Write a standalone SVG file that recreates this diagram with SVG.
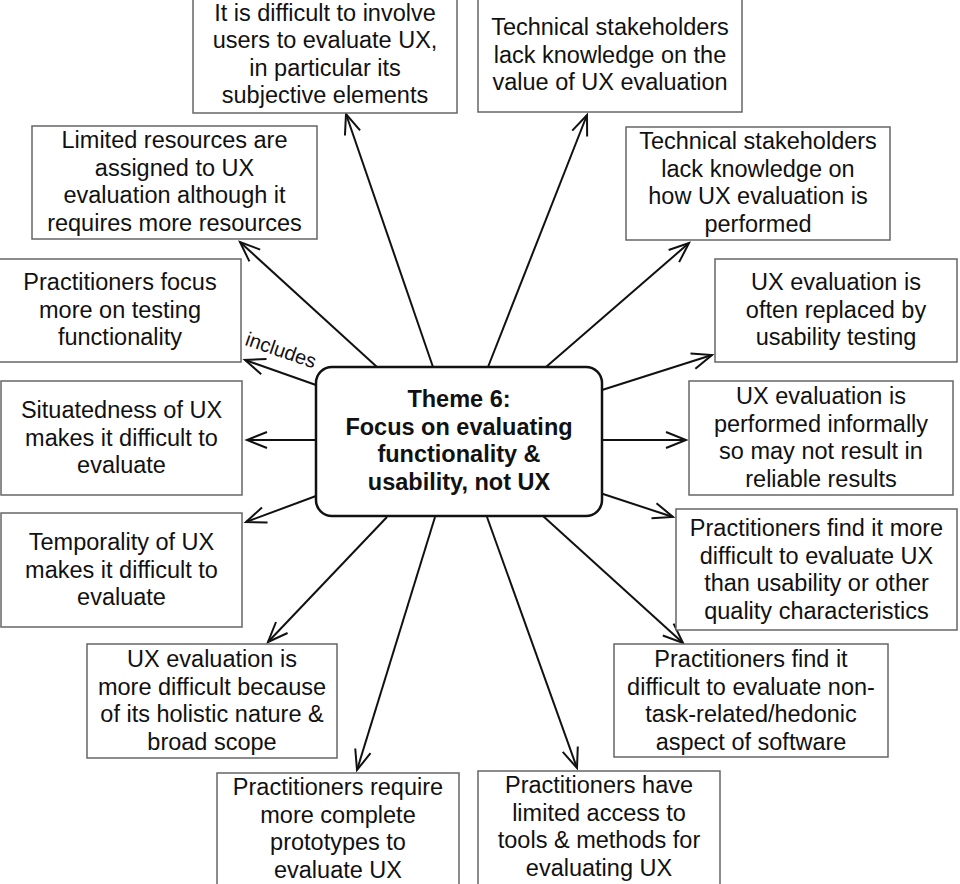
<svg xmlns="http://www.w3.org/2000/svg" width="960" height="884" viewBox="0 0 960 884">
<style>
.box{fill:#fff;stroke:#666;stroke-width:1.5}
.t{font-family:"Liberation Sans",Arial,sans-serif;font-size:23.5px;fill:#111;text-anchor:middle}
.c{font-family:"Liberation Sans",Arial,sans-serif;font-size:23.5px;font-weight:bold;fill:#111;text-anchor:middle}
.e{stroke:#111;stroke-width:2;fill:none;marker-end:url(#arr)}
</style>
<defs>
<marker id="arr" markerUnits="userSpaceOnUse" viewBox="-25 -12 30 24" markerWidth="30" markerHeight="24" refX="0" refY="0" orient="auto">
<path d="M-20,-8 L0,0 L-20,8" fill="none" stroke="#111" stroke-width="2"/>
</marker>
</defs>
<rect width="960" height="884" fill="#fff"/>
<g id="connectors">
<line class="e" x1="433" y1="367" x2="346" y2="114"/>
<line class="e" x1="488" y1="367" x2="587" y2="115"/>
<line class="e" x1="546" y1="367" x2="689" y2="243"/>
<line class="e" x1="602" y1="390" x2="712" y2="355"/>
<line class="e" x1="602" y1="440" x2="686" y2="440"/>
<line class="e" x1="600" y1="493" x2="673" y2="517"/>
<line class="e" x1="543" y1="516" x2="683" y2="643"/>
<line class="e" x1="487" y1="517" x2="577" y2="768"/>
<line class="e" x1="435" y1="517" x2="357" y2="770"/>
<line class="e" x1="387" y1="517" x2="268" y2="642"/>
<line class="e" x1="316" y1="496" x2="246" y2="522"/>
<line class="e" x1="316" y1="440" x2="247" y2="440"/>
<line class="e" x1="316" y1="385" x2="245" y2="360"/>
<line class="e" x1="377" y1="367" x2="240" y2="242"/>
<text font-family="Liberation Sans,Arial,sans-serif" font-size="20" fill="#111" text-anchor="middle" x="281" y="357" transform="rotate(19 281 350)">includes</text>
</g>
<g id="center">
<rect x="316" y="367" width="286" height="149" rx="16" fill="#fff" stroke="#111" stroke-width="2.5"/>
<text class="c" x="459" y="407">Theme 6:<tspan x="459" dy="27.5">Focus on evaluating</tspan><tspan x="459" dy="27.5">functionality &amp;</tspan><tspan x="459" dy="27.5">usability, not UX</tspan></text>
</g>
<g id="n1">
<rect class="box" x="193" y="-3" width="264" height="116"/>
<text class="t" x="325" y="21">It is difficult to involve<tspan x="325" dy="27.3">users to evaluate UX,</tspan><tspan x="325" dy="27.3">in particular its</tspan><tspan x="325" dy="27.3">subjective elements</tspan></text>
</g>
<g id="n2">
<rect class="box" x="478" y="-3" width="264" height="115"/>
<text class="t" x="610" y="35">Technical stakeholders<tspan x="610" dy="27.5">lack knowledge on the</tspan><tspan x="610" dy="27.5">value of UX evaluation</tspan></text>
</g>
<g id="n3">
<rect class="box" x="626" y="127" width="264" height="113"/>
<text class="t" x="758" y="149">Technical stakeholders<tspan x="758" dy="27.5">lack knowledge on</tspan><tspan x="758" dy="27.5">how UX evaluation is</tspan><tspan x="758" dy="27.5">performed</tspan></text>
</g>
<g id="n4">
<rect class="box" x="715" y="259" width="242" height="103"/>
<text class="t" x="836" y="290">UX evaluation is<tspan x="836" dy="27.5">often replaced by</tspan><tspan x="836" dy="27.5">usability testing</tspan></text>
</g>
<g id="n5">
<rect class="box" x="689" y="381" width="264" height="114"/>
<text class="t" x="821" y="404">UX evaluation is<tspan x="821" dy="27.5">performed informally</tspan><tspan x="821" dy="27.5">so may not result in</tspan><tspan x="821" dy="27.5">reliable results</tspan></text>
</g>
<g id="n6">
<rect class="box" x="676" y="509" width="281" height="121"/>
<text class="t" x="816.5" y="536">Practitioners find it more<tspan x="816.5" dy="27.5">difficult to evaluate UX</tspan><tspan x="816.5" dy="27.5">than usability or other</tspan><tspan x="816.5" dy="27.5">quality characteristics</tspan></text>
</g>
<g id="n7">
<rect class="box" x="614" y="644" width="274" height="113"/>
<text class="t" x="751" y="667">Practitioners find it<tspan x="751" dy="27.5">difficult to evaluate non-</tspan><tspan x="751" dy="27.5">task-related/hedonic</tspan><tspan x="751" dy="27.5">aspect of software</tspan></text>
</g>
<g id="n8">
<rect class="box" x="478" y="771" width="242" height="125"/>
<text class="t" x="599" y="793">Practitioners have<tspan x="599" dy="27.5">limited access to</tspan><tspan x="599" dy="27.5">tools &amp; methods for</tspan><tspan x="599" dy="27.5">evaluating UX</tspan></text>
</g>
<g id="n9">
<rect class="box" x="217" y="773" width="242" height="125"/>
<text class="t" x="338" y="795">Practitioners require<tspan x="338" dy="27.5">more complete</tspan><tspan x="338" dy="27.5">prototypes to</tspan><tspan x="338" dy="27.5">evaluate UX</tspan></text>
</g>
<g id="n10">
<rect class="box" x="87" y="644" width="250" height="114"/>
<text class="t" x="212" y="667">UX evaluation is<tspan x="212" dy="27.5">more difficult because</tspan><tspan x="212" dy="27.5">of its holistic nature &amp;</tspan><tspan x="212" dy="27.5">broad scope</tspan></text>
</g>
<g id="n11">
<rect class="box" x="1" y="513" width="241" height="114"/>
<text class="t" x="121.5" y="550">Temporality of UX<tspan x="121.5" dy="27.5">makes it difficult to</tspan><tspan x="121.5" dy="27.5">evaluate</tspan></text>
</g>
<g id="n12">
<rect class="box" x="1" y="381" width="241" height="114"/>
<text class="t" x="121.5" y="418">Situatedness of UX<tspan x="121.5" dy="27.5">makes it difficult to</tspan><tspan x="121.5" dy="27.5">evaluate</tspan></text>
</g>
<g id="n13">
<rect class="box" x="-1" y="259" width="242" height="103"/>
<text class="t" x="120" y="290">Practitioners focus<tspan x="120" dy="27.5">more on testing</tspan><tspan x="120" dy="27.5">functionality</tspan></text>
</g>
<g id="n14">
<rect class="box" x="32" y="126" width="285" height="113"/>
<text class="t" x="174.5" y="148">Limited resources are<tspan x="174.5" dy="27.5">assigned to UX</tspan><tspan x="174.5" dy="27.5">evaluation although it</tspan><tspan x="174.5" dy="27.5">requires more resources</tspan></text>
</g>
</svg>
